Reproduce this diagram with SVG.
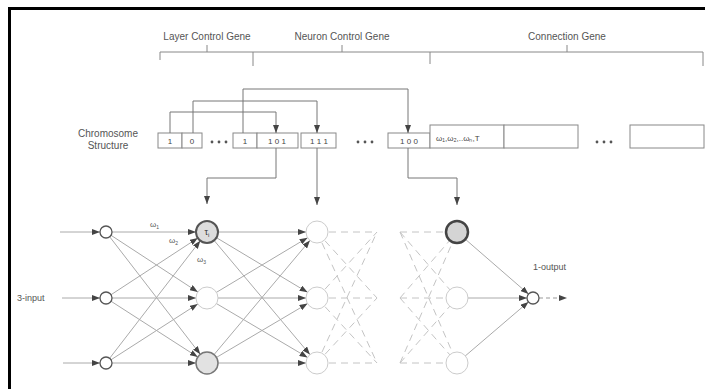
<svg xmlns="http://www.w3.org/2000/svg" width="705" height="389" viewBox="0 0 705 389">
<style>
text{font-family:"Liberation Sans",Arial,sans-serif;fill:#555}
.lbl{font-size:10px;text-anchor:middle}
.bx{font-size:8px;text-anchor:middle;fill:#444}
.br{stroke:#888;stroke-width:1;fill:none}
.box{fill:#fff;stroke:#888;stroke-width:1}
.wire{stroke:#777;stroke-width:1;fill:none}
.e{stroke:#aaa;stroke-width:1;fill:none}
.d{stroke:#c4c4c4;stroke-width:1;fill:none;stroke-dasharray:7 5}
.dot{fill:#555}
</style>
<defs>
<marker id="a0" markerUnits="userSpaceOnUse" markerWidth="8" markerHeight="6" refX="8" refY="3" orient="auto"><path d="M0,0 L8,3 L0,6 z" fill="#444"/></marker>
<marker id="a6" markerUnits="userSpaceOnUse" markerWidth="14" markerHeight="6" refX="14" refY="3" orient="auto"><path d="M0,0 L8,3 L0,6 z" fill="#444"/></marker>
<marker id="a11" markerUnits="userSpaceOnUse" markerWidth="20" markerHeight="6" refX="19" refY="3" orient="auto"><path d="M0,0 L8,3 L0,6 z" fill="#444"/></marker>
</defs>
<rect width="705" height="389" fill="#fff"/>
<path d="M9.5,389 V8.5 H705" fill="none" stroke="#000" stroke-width="3"/>

<g id="brackets">
<path class="br" d="M160,52 H703 M160,52 V60 M253,52 V66 M430,52 V64 M703,52 V66 M207,45 V52 M342,45 V52 M567,45 V52"/>
<text class="lbl" x="207" y="40">Layer Control Gene</text>
<text class="lbl" x="342" y="40">Neuron Control Gene</text>
<text class="lbl" x="567" y="40">Connection Gene</text>
</g>

<g id="chromosome">
<text class="lbl" x="108" y="137">Chromosome</text>
<text class="lbl" x="108" y="149">Structure</text>
<rect class="box" x="158" y="133" width="24" height="15"/><text class="bx" x="170" y="143.5">1</text>
<rect class="box" x="182" y="133" width="20" height="15"/><text class="bx" x="192" y="143.5">0</text>
<circle class="dot" cx="212" cy="142" r="1.4"/><circle class="dot" cx="219" cy="142" r="1.4"/><circle class="dot" cx="226" cy="142" r="1.4"/>
<rect class="box" x="233" y="133" width="24" height="15"/><text class="bx" x="245" y="143.5">1</text>
<rect class="box" x="257" y="133" width="41" height="15"/><text class="bx" x="277" y="143.5">1 0 1</text>
<rect class="box" x="301" y="133" width="35" height="15"/><text class="bx" x="319" y="143.5">1 1 1</text>
<circle class="dot" cx="358" cy="142" r="1.4"/><circle class="dot" cx="365" cy="142" r="1.4"/><circle class="dot" cx="372" cy="142" r="1.4"/>
<rect class="box" x="388" y="133" width="42" height="15"/><text class="bx" x="409" y="143.5">1 0 0</text>
<rect class="box" x="430" y="125" width="74" height="23"/><text class="bx" x="436" y="141" style="text-anchor:start">ω₁,ω₂,..ωₙ,T</text>
<rect class="box" x="504" y="125" width="74" height="23"/>
<circle class="dot" cx="597" cy="142" r="1.4"/><circle class="dot" cx="604" cy="142" r="1.4"/><circle class="dot" cx="611" cy="142" r="1.4"/>
<rect class="box" x="630" y="125" width="74" height="23"/>
</g>

<g id="connectors">
<path class="wire" d="M170,133 V112 H276 V133" marker-end="url(#a0)"/>
<path class="wire" d="M193,133 V101 H317 V133" marker-end="url(#a0)"/>
<path class="wire" d="M243,133 V89 H408 V133" marker-end="url(#a0)"/>
<path class="wire" d="M276,148 V178 H207 V204" marker-end="url(#a0)"/>
<path class="wire" d="M317,148 V205" marker-end="url(#a0)"/>
<path class="wire" d="M408,148 V178 H457 V205" marker-end="url(#a0)"/>

<path class="e" d="M60,232 H106" marker-end="url(#a6)"/>
<path class="e" d="M62,298 H106" marker-end="url(#a6)"/>
<path class="e" d="M63,363 H106" marker-end="url(#a6)"/>

<g marker-end="url(#a11)">
<path class="e" d="M106,232 L207,232"/><path class="e" d="M106,232 L207,298"/><path class="e" d="M106,232 L207,363"/>
<path class="e" d="M106,298 L207,232"/><path class="e" d="M106,298 L207,298"/><path class="e" d="M106,298 L207,363"/>
<path class="e" d="M106,363 L207,232"/><path class="e" d="M106,363 L207,298"/><path class="e" d="M106,363 L207,363"/>
<path class="e" d="M207,232 L317,232"/><path class="e" d="M207,232 L317,298"/><path class="e" d="M207,232 L317,363"/>
<path class="e" d="M207,298 L317,232"/><path class="e" d="M207,298 L317,298"/><path class="e" d="M207,298 L317,363"/>
<path class="e" d="M207,363 L317,232"/><path class="e" d="M207,363 L317,298"/><path class="e" d="M207,363 L317,363"/>
</g>

<path class="d" d="M317,232 L377,232 M317,232 L377,298 M317,232 L377,363 M317,298 L377,232 M317,298 L377,298 M317,298 L377,363 M317,363 L377,232 M317,363 L377,298 M317,363 L377,363"/>
<path class="d" d="M400,232 L457,232 M400,232 L457,298 M400,232 L457,363 M400,298 L457,232 M400,298 L457,298 M400,298 L457,363 M400,363 L457,232 M400,363 L457,298 M400,363 L457,363"/>

<g marker-end="url(#a6)">
<path class="e" d="M457,232 L533,298"/><path class="e" d="M457,298 L533,298"/><path class="e" d="M457,363 L533,298"/>
</g>
<path class="d" d="M539,298 H567" style="stroke:#999;stroke-dasharray:4 3" marker-end="url(#a0)"/>
</g>

<g id="input1"><circle cx="106" cy="232" r="6" fill="#fff" stroke="#555" stroke-width="1.3"/></g>
<g id="input2"><circle cx="106" cy="298" r="6" fill="#fff" stroke="#555" stroke-width="1.3"/></g>
<g id="input3"><circle cx="106" cy="363" r="6" fill="#fff" stroke="#555" stroke-width="1.3"/></g>
<g id="inputLabel"><text x="17" y="301" style="font-size:9px">3-input</text></g>

<g id="h1a"><circle cx="207" cy="232" r="11" fill="#ddd" stroke="#555" stroke-width="2"/><text x="207" y="235" style="font-size:9px;text-anchor:middle;fill:#333">τ<tspan style="font-size:6px" dy="2">i</tspan></text></g>
<g id="h1b"><circle cx="207" cy="298" r="11" fill="#fff" stroke="#ccc" stroke-width="1"/></g>
<g id="h1c"><circle cx="207" cy="363" r="11" fill="#e2e2e2" stroke="#777" stroke-width="1.5"/></g>
<g id="weights">
<text x="150" y="227" style="font-size:8px">ω<tspan style="font-size:5px" dy="2">1</tspan></text>
<text x="169" y="243" style="font-size:8px">ω<tspan style="font-size:5px" dy="2">2</tspan></text>
<text x="197" y="262" style="font-size:8px">ω<tspan style="font-size:5px" dy="2">3</tspan></text>
</g>

<g id="h2a"><circle cx="317" cy="232" r="11" fill="#fff" stroke="#ccc" stroke-width="1"/></g>
<g id="h2b"><circle cx="317" cy="298" r="11" fill="#fff" stroke="#ccc" stroke-width="1"/></g>
<g id="h2c"><circle cx="317" cy="363" r="11" fill="#fff" stroke="#ccc" stroke-width="1"/></g>

<g id="hna"><circle cx="457" cy="232" r="11" fill="#d4d4d4" stroke="#444" stroke-width="2.5"/></g>
<g id="hnb"><circle cx="457" cy="298" r="11" fill="#fff" stroke="#ccc" stroke-width="1"/></g>
<g id="hnc"><circle cx="457" cy="363" r="11" fill="#fff" stroke="#ccc" stroke-width="1"/></g>

<g id="output"><circle cx="533" cy="298" r="6" fill="#fff" stroke="#555" stroke-width="1.3"/></g>
<g id="outputLabel"><text x="533" y="270" style="font-size:9px">1-output</text></g>
</svg>
